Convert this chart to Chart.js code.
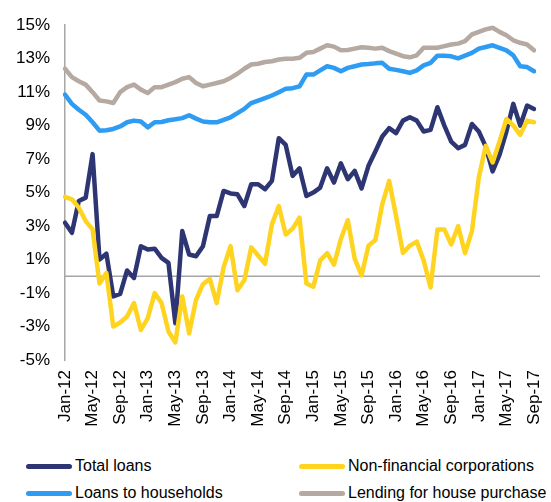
<!DOCTYPE html>
<html>
<head>
<meta charset="utf-8">
<script src="https://cdn.jsdelivr.net/npm/chart.js@4"></script>
<style>
  body { margin: 0; background: #fff; font-family: "Liberation Sans", Arial, sans-serif; }
  #wrap { position: relative; width: 551px; height: 502px; }
  #legend .item { position: absolute; height: 20px; display: flex; align-items: center; font-size: 16px; color: #000; white-space: nowrap; }
  #legend .sw { width: 46px; height: 5px; border-radius: 3px; margin-right: 3px; }
</style>
</head>
<body>
<div id="wrap">
  <canvas id="loanChart" width="551" height="440"></canvas>
  <div id="legend"></div>
</div>
<script>
// Categories: monthly, Jan-12 .. Sep-17
const monthNames = ["Jan", "Feb", "Mar", "Apr", "May", "Jun", "Jul", "Aug", "Sep", "Oct", "Nov", "Dec"];
const years = ["12", "13", "14", "15", "16", "17"];
const labels = [];
years.forEach(function (y) {
  monthNames.forEach(function (m) { labels.push(m + "-" + y); });
});
labels.length = 69; // up to Sep-17

// Series values (% y/y)
const totalLoans = [
  3.2, 2.6, 4.5, 4.7, 7.3, 1.0, 1.35, -1.2, -1.05, 0.35,
  -0.1, 1.8, 1.6, 1.65, 1.1, 0.8, -2.8, 2.7, 1.3, 1.2,
  1.8, 3.6, 3.6, 5.1, 4.95, 4.9, 4.2, 5.5, 5.5, 5.2,
  5.7, 8.25, 7.85, 6.0, 6.45, 4.8, 5.0, 5.3, 6.45, 5.6,
  6.75, 5.8, 6.3, 5.25, 6.6, 7.45, 8.35, 8.85, 8.55, 9.3,
  9.5, 9.3, 8.65, 8.75, 10.1, 9.0, 8.05, 7.65, 7.85, 9.1,
  8.65, 7.75, 6.27, 7.25, 8.65, 10.3, 9.0, 10.2, 10.0
];
const nonFinancial = [
  4.75, 4.6, 4.1, 3.3, 2.8, -0.43, 0.2, -3.0, -2.76, -2.4,
  -1.6, -3.2, -2.5, -1.0, -1.6, -3.3, -3.95, -1.2, -3.4, -1.4,
  -0.47, -0.15, -1.6, 0.55, 1.8, -0.83, -0.24, 1.73, 1.24, 0.75,
  3.1, 4.2, 2.5, 2.85, 3.5, -0.43, -0.63, 0.95, 1.38, 0.7,
  2.23, 3.35, 1.05, 0.06, 1.83, 2.17, 4.3, 5.7, 3.6, 1.4,
  1.83, 2.07, 0.95, -0.67, 2.8, 2.8, 1.9, 3.0, 1.38, 2.7,
  5.9, 7.8, 6.8, 8.05, 9.4, 9.0, 8.45, 9.3, 9.2
];
const households = [
  10.85, 10.3, 9.95, 9.65, 9.2, 8.7, 8.72, 8.8, 8.95, 9.2,
  9.3, 9.25, 8.9, 9.2, 9.22, 9.32, 9.38, 9.45, 9.62, 9.42,
  9.25, 9.2, 9.2, 9.35, 9.5, 9.75, 10.0, 10.35, 10.5, 10.65,
  10.8, 11.0, 11.2, 11.24, 11.35, 12.05, 12.05, 12.3, 12.55, 12.45,
  12.25, 12.45, 12.55, 12.65, 12.68, 12.72, 12.75, 12.4, 12.33, 12.25,
  12.15, 12.3, 12.6, 12.75, 13.18, 13.18, 13.14, 13.02, 13.18, 13.35,
  13.6, 13.7, 13.8, 13.65, 13.5, 13.2, 12.55, 12.5, 12.25
];
const housePurchase = [
  12.4, 11.9, 11.65, 11.45, 11.0, 10.5, 10.45, 10.35, 11.0, 11.3,
  11.45, 11.15, 10.95, 11.3, 11.3, 11.45, 11.6, 11.8, 11.9, 11.55,
  11.35, 11.45, 11.55, 11.65, 11.85, 12.1, 12.4, 12.65, 12.7, 12.8,
  12.85, 12.95, 13.0, 13.0, 13.05, 13.35, 13.4, 13.6, 13.8, 13.72,
  13.5, 13.52, 13.6, 13.68, 13.65, 13.6, 13.65, 13.45, 13.3, 13.15,
  13.08, 13.2, 13.65, 13.65, 13.65, 13.75, 13.85, 13.9, 14.05, 14.45,
  14.6, 14.75, 14.85, 14.6, 14.4, 14.1, 13.95, 13.85, 13.5
];

const seriesNames = ["Total loans", "Non-financial corporations", "Loans to households", "Lending for house purchase"];
const seriesColors = ["#2D3672", "#FFD420", "#2E9CF2", "#B5A9A1"];

// zero line across the plot
const zeroLine = {
  id: "zeroLine",
  beforeDatasetsDraw(chart) {
    const { ctx, chartArea, scales } = chart;
    const y = scales.y.getPixelForValue(0);
    ctx.save();
    ctx.strokeStyle = "#A6A6A6";
    ctx.lineWidth = 1.5;
    ctx.beginPath();
    ctx.moveTo(chartArea.left, y);
    ctx.lineTo(chartArea.right + 6, y);
    ctx.stroke();
    ctx.restore();
  }
};

function ds(i, data) {
  return {
    label: seriesNames[i],
    data: data,
    borderColor: seriesColors[i],
    backgroundColor: seriesColors[i],
    borderWidth: 4.5,
    pointRadius: 0,
    tension: 0,
    borderJoinStyle: "round",
    borderCapStyle: "round",
    order: 4 - i
  };
}

const tickFont = { family: "'Liberation Sans', Arial, sans-serif", size: 17 };

const ctx = document.getElementById("loanChart").getContext("2d");
new Chart(ctx, {
  type: "line",
  data: {
    labels: labels,
    datasets: [ds(0, totalLoans), ds(1, nonFinancial), ds(2, households), ds(3, housePurchase)]
  },
  options: {
    responsive: false,
    animation: false,
    layout: { padding: { top: 22, right: 17, left: 0, bottom: 0 } },
    plugins: { legend: { display: false }, tooltip: { enabled: false } },
    scales: {
      x: {
        grid: { display: false, drawTicks: false },
        border: { display: false },
        afterFit: function (s) { s.height = 80; s.paddingLeft = 0; s.paddingRight = 0; },
        ticks: {
          autoSkip: false,
          minRotation: 90,
          maxRotation: 90,
          padding: 10,
          color: "#000",
          font: tickFont,
          callback: function (v, i) { return i % 4 === 0 ? labels[i] : null; }
        }
      },
      y: {
        min: -5,
        max: 15,
        afterFit: function (s) { s.width = 65; },
        grid: { display: false, drawTicks: false },
        border: { display: true, color: "#A6A6A6", width: 1.5 },
        ticks: {
          stepSize: 2,
          padding: 15,
          color: "#000",
          font: tickFont,
          callback: function (v) { return v + "%"; }
        }
      }
    }
  },
  plugins: [zeroLine]
});

// legend in two columns
const legendPos = [[26, 456], [299, 456], [26, 483], [299, 483]];
const legend = document.getElementById("legend");
seriesNames.forEach(function (name, i) {
  const item = document.createElement("div");
  item.className = "item";
  item.style.left = legendPos[i][0] + "px";
  item.style.top = legendPos[i][1] + "px";
  item.innerHTML = '<span class="sw" style="background:' + seriesColors[i] + '"></span>' + name;
  legend.appendChild(item);
});
</script>
</body>
</html>
